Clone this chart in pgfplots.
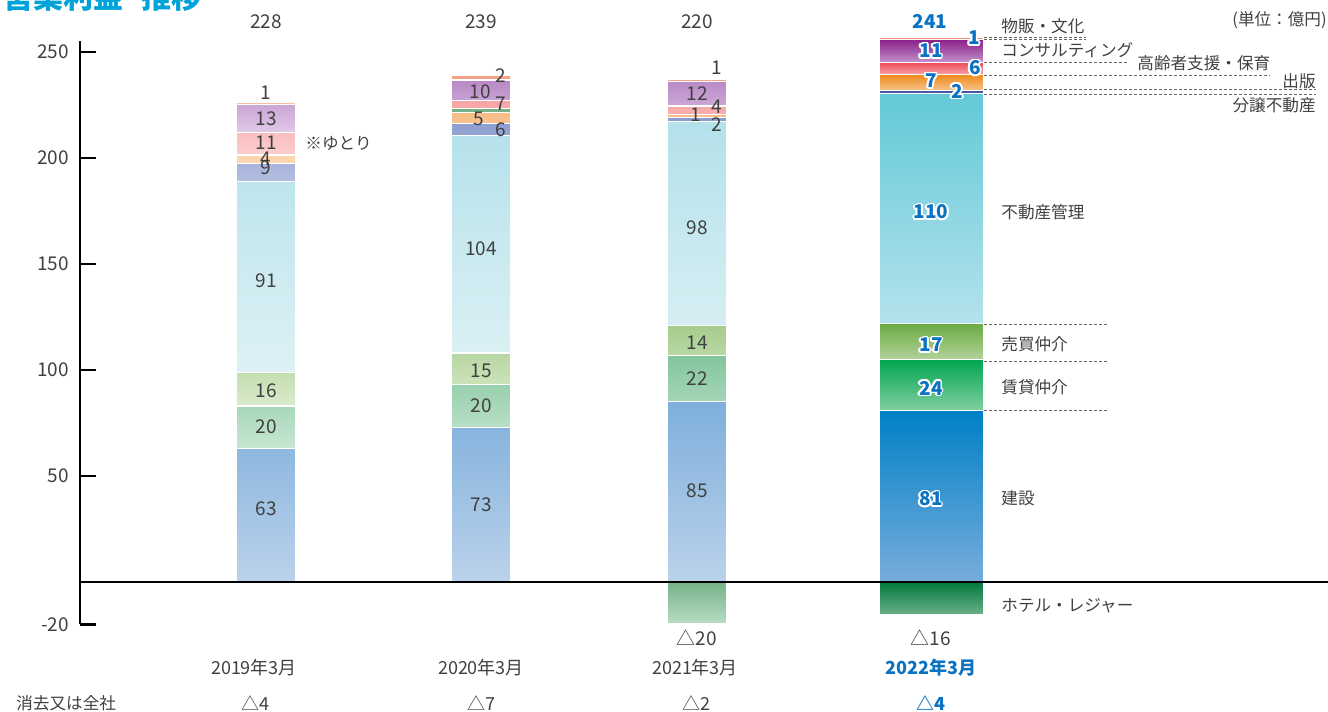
\documentclass[border=0pt]{standalone}
\usepackage{pgfplots}
\pgfplotsset{compat=1.18}
\usepackage{fontspec}
\setmainfont{Noto Sans CJK JP}
\newcommand{\fs}[1]{\fontsize{#1}{#1}\selectfont}

\definecolor{txt}{HTML}{404040}
\definecolor{blu}{HTML}{0A72C2}
\definecolor{ttl}{HTML}{00A3D9}
\definecolor{dash}{HTML}{666666}
% pastel (2019-2021)
\definecolor{kenT}{HTML}{7EAFDB}\definecolor{kenB}{HTML}{BBD2EB}
\definecolor{chiT}{HTML}{82C59C}\definecolor{chiB}{HTML}{C8E7D2}
\definecolor{baiT}{HTML}{A6CC8C}\definecolor{baiB}{HTML}{D9EBCB}
\definecolor{kanT}{HTML}{B4E1EA}\definecolor{kanB}{HTML}{DDF1F5}
\definecolor{bunT}{HTML}{8A9BCE}\definecolor{bunB}{HTML}{B3BEE1}
\definecolor{shuT}{HTML}{F7BC86}\definecolor{shuB}{HTML}{FCD9B2}
\definecolor{koT}{HTML}{F6A4A5}\definecolor{koB}{HTML}{FCCFCF}
\definecolor{conT}{HTML}{B888C6}\definecolor{conB}{HTML}{E0C9E7}
\definecolor{buT}{HTML}{F3A185}\definecolor{buB}{HTML}{F8BFA8}
\definecolor{hotT}{HTML}{75B289}\definecolor{hotB}{HTML}{B8DCC2}
% strong (2022)
\definecolor{KenT}{HTML}{0080C6}\definecolor{KenB}{HTML}{78ADDC}
\definecolor{ChiT}{HTML}{00A651}\definecolor{ChiB}{HTML}{80CFA0}
\definecolor{BaiT}{HTML}{69AA41}\definecolor{BaiB}{HTML}{B2D29A}
\definecolor{KanT}{HTML}{63C9D8}\definecolor{KanB}{HTML}{B4E2EC}
\definecolor{BunT}{HTML}{3B4FA0}\definecolor{BunB}{HTML}{5A6CB4}
\definecolor{ShuT}{HTML}{EE8A1E}\definecolor{ShuB}{HTML}{F7C48A}
\definecolor{KoT}{HTML}{EE4B5A}\definecolor{KoB}{HTML}{F7A3AA}
\definecolor{ConT}{HTML}{8B2089}\definecolor{ConB}{HTML}{C294CC}
\definecolor{BuT}{HTML}{F07E6C}\definecolor{BuB}{HTML}{F5A595}
\definecolor{HotT}{HTML}{007A3D}\definecolor{HotB}{HTML}{6CB088}

\pgfplotsset{
  base/.style={at={(40pt,-312.2pt)}, anchor=south west, scale only axis,
    width=624pt, height=291.5pt, xmin=80, xmax=1328, ymin=-20, ymax=255, clip=false},
  sh/.style 2 args={top color=#1, bottom color=#2, draw=white, line width=0.6pt},
}

\newcommand{\ol}[3]{%
  \foreach \a in {0,30,...,330}{\node[text=white, font=\fs{9.5}\bfseries, inner sep=0pt] at ([shift={(\a:0.9pt)}]#1,#2) {#3};}
  \node[text=blu, font=\fs{9.5}\bfseries, inner sep=0pt] at (#1,#2) {#3};}

\begin{document}
\begin{tikzpicture}
\useasboundingbox (0pt,0pt) rectangle (664pt,-356pt);

% ---------- 2019-2021 stacked ----------
\begin{axis}[base, ybar stacked, bar width=60,
  axis lines*=left, axis line style={-}, x axis line style={draw=none},
  y axis line style={line width=1.4pt, black},
  ytick={-20,50,100,150,200,250}, yticklabels={-20,50,100,150,200,250},
  tick align=inside, major tick length=8pt, ytick style={line width=1.4pt, black},
  yticklabel style={font=\fs{9.5}, text=txt, xshift=-2pt},
  xtick={254,481,695,931},
  xticklabels={2019年3月,2020年3月,2021年3月,{\bfseries\color{blu}2022年3月}},
  xtick style={draw=none},
  xticklabel style={font=\fs{9}, text=txt, anchor=center, yshift=-21.8pt}]
\addplot[sh={kenT}{kenB}] coordinates {(266,63) (481,73) (697,85)};
\addplot[sh={chiT}{chiB}] coordinates {(266,20) (481,20) (697,22)};
\addplot[sh={baiT}{baiB}] coordinates {(266,16) (481,15) (697,14)};
\addplot[sh={kanT}{kanB}] coordinates {(266,89.9) (481,102.5) (697,96.2)};
\addplot[sh={bunT}{bunB}] coordinates {(266,8.5) (481,5.8) (697,1.8)};
\addplot[sh={shuT}{shuB}] coordinates {(266,4) (481,5.1) (697,1.6)};
\addplot[sh={hotT}{hotT}] coordinates {(266,0) (481,1.9) (697,0)};
\addplot[sh={koT}{koB}] coordinates {(266,10.6) (481,4) (697,3.9)};
\addplot[sh={conT}{conB}] coordinates {(266,13.1) (481,9.5) (697,11.7)};
\addplot[sh={buT}{buB}] coordinates {(266,1) (481,2) (697,1.1)};
\end{axis}

% ---------- 2022 stacked ----------
\begin{axis}[base, hide axis, ybar stacked, bar width=105]
\addplot[sh={KenT}{KenB}] coordinates {(931.5,81)};
\addplot[sh={ChiT}{ChiB}] coordinates {(931.5,24)};
\addplot[sh={BaiT}{BaiB}] coordinates {(931.5,17)};
\addplot[sh={KanT}{KanB}] coordinates {(931.5,108.3)};
\addplot[sh={BunT}{BunB}] coordinates {(931.5,1.6)};
\addplot[sh={ShuT}{ShuB}] coordinates {(931.5,7.3)};
\addplot[sh={KoT}{KoB}] coordinates {(931.5,5.8)};
\addplot[sh={ConT}{ConB}] coordinates {(931.5,10.8)};
\addplot[sh={BuT}{BuB}] coordinates {(931.5,1.2)};
\end{axis}

% ---------- hotel / leisure (negative) ----------
\begin{axis}[base, hide axis, ybar]
\addplot[sh={hotT}{hotB}, bar shift=0pt, bar width=60] coordinates {(697,-19.5)};
\addplot[sh={HotT}{HotB}, bar shift=0pt, bar width=105] coordinates {(931.5,-15.3)};
\draw[line width=1.3pt, black] (axis cs:80,0) -- (axis cs:1328,0);
\end{axis}

% ---------- texts ----------
\begin{scope}[x=0.5pt, y=-0.5pt, every node/.style={text=txt, inner sep=0pt}]
\node[anchor=base west, font=\fs{15}\bfseries, text=ttl] at (3,9) {営業利益\hspace{0.6em}推移};
\node[anchor=east, font=\fs{8.3}] at (1327,20) {(単位：億円)};

\begin{scope}[every node/.append style={font=\fs{9.5}}]
\node at (266,22) {228}; \node at (481,22) {239}; \node at (697,22) {220};
% 2019
\node at (266,93) {1}; \node at (266,119) {13}; \node at (266,142.5) {11};
\node at (266,159) {4}; \node at (266,168) {9}; \node at (266,281) {91};
\node at (266,391) {16}; \node at (266,427) {20}; \node at (266,509) {63};
% 2020
\node at (501,76) {2}; \node at (480,92) {10}; \node at (501,104) {7};
\node at (479,119) {5}; \node at (501,130) {6}; \node at (481,249) {104};
\node at (481,371) {15}; \node at (481,406) {20}; \node at (481,505) {73};
% 2021
\node at (717,68) {1}; \node at (697,94) {12}; \node at (717,107) {4};
\node at (696,115) {1}; \node at (717,125) {2}; \node at (697,228) {98};
\node at (697,343) {14}; \node at (697,379) {22}; \node at (697,491) {85};
\node at (697,638) {△20}; \node at (931,638) {△16};
\end{scope}
\node[anchor=west, font=\fs{8.3}] at (305,143) {※ゆとり};

% 2022 outlined labels
\ol{930}{21}{241}
\ol{974}{38}{1}
\ol{931}{51}{11}
\ol{975}{68}{6}
\ol{931}{81}{7}
\ol{957}{91}{2}
\ol{931}{212}{110}
\ol{931}{345}{17}
\ol{931}{388}{24}
\ol{931}{499}{81}

% leader lines
\begin{scope}[draw=dash, line width=0.5pt, dash pattern=on 1.5pt off 1pt]
\draw (984,37) -- (1086,37);
\draw (984,39.5) -- (1086,39.5);
\draw (984,62) -- (1128,62);
\draw (984,75) -- (1270,75);
\draw (984,89) -- (1316,89);
\draw (984,94) -- (1316,94);
\draw (984,324) -- (1109,324);
\draw (984,361) -- (1109,361);
\draw (984,410) -- (1109,410);
\end{scope}

% category labels
\begin{scope}[every node/.append style={font=\fs{8.3}}]
\node[anchor=west] at (1001,26) {物販・文化};
\node[anchor=west] at (1001,50) {コンサルティング};
\node[anchor=west] at (1137,63) {高齢者支援・保育};
\node[anchor=east] at (1316,81) {出版};
\node[anchor=east] at (1316,105) {分譲不動産};
\node[anchor=west] at (1001,212) {不動産管理};
\node[anchor=west] at (1001,344) {売買仲介};
\node[anchor=west] at (1001,387) {賃貸仲介};
\node[anchor=west] at (1001,498) {建設};
\node[anchor=west] at (1001,606) {ホテル・レジャー};
\node[anchor=west] at (16,703) {消去又は全社};
\end{scope}
\begin{scope}[every node/.append style={font=\fs{9}}]
\node at (255,703) {△4}; \node at (481,703) {△7}; \node at (696,703) {△2};
\node[text=blu, font=\fs{9}\bfseries] at (931,703) {△4};
\end{scope}
\end{scope}
\end{tikzpicture}
\end{document}
